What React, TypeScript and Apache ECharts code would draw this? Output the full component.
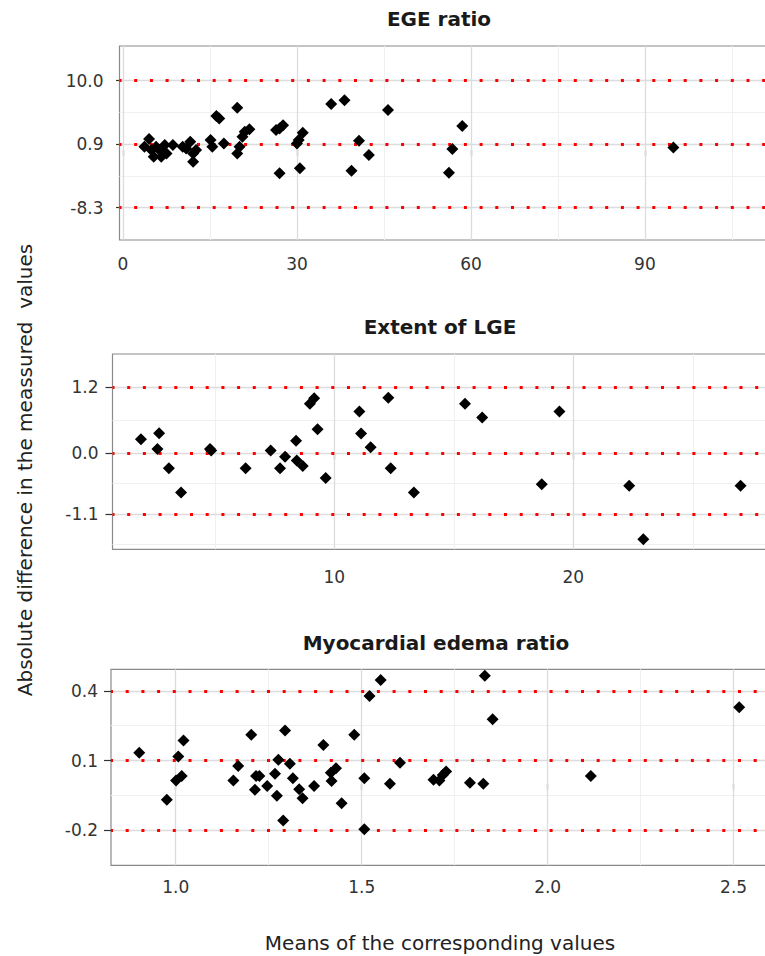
import React, { useEffect, useRef } from "react";
import * as echarts from "echarts";

// ---- Panel 1: EGE ratio ----
const egeTitle = "EGE ratio";
const egeX = [3.7, 4.5, 4.9, 5.3, 5.7, 6.3, 6.6, 7.2, 7.5, 8.6, 10.3, 10.9, 11.6, 12.1, 12.1, 12.6, 15.1, 15.4, 16.1, 16.6, 17.4, 19.7, 19.7, 20.1, 20.6, 21.0, 21.8, 26.4, 27.0, 27.6, 27.0, 30.0, 30.3, 31.0, 30.5, 35.9, 38.2, 39.4, 40.7, 42.4, 45.7, 56.2, 56.8, 58.5, 94.9];
const egeY = [0.49, 1.6, 0.01, -0.95, 0.49, 0.01, -0.95, 0.73, -0.47, 0.73, 0.49, 0.25, 1.2, -0.47, -1.67, 0.01, 1.45, 0.49, 4.9, 4.57, 0.97, 6.1, -0.47, 0.49, 1.93, 2.65, 3.0, 2.9, 3.13, 3.6, -3.35, 0.97, 1.45, 2.5, -2.63, 6.64, 7.2, -2.97, 1.35, -0.71, 5.77, -3.26, 0.15, 3.47, 0.39];
const egeLimits = [10.0, 0.9, -8.3];
const egeXTicks = [0, 30, 60, 90];
const egeXMinor = [15, 45, 75, 105];
const egeYMinor = [5.45, -3.7];

// ---- Panel 2: Extent of LGE ----
const lgeTitle = "Extent of LGE";
const lgeX = [1.91, 2.67, 2.6, 3.08, 3.59, 4.8, 4.85, 6.29, 7.34, 7.73, 7.94, 8.4, 8.43, 8.68, 8.98, 9.16, 9.3, 9.64, 11.05, 11.12, 11.52, 12.26, 12.36, 13.33, 15.47, 16.19, 18.68, 19.42, 22.34, 22.93, 27.0];
const lgeY = [0.255, 0.364, 0.079, -0.27, -0.71, 0.08, 0.05, -0.27, 0.05, -0.27, -0.06, 0.23, -0.13, -0.23, 0.9, 1.0, 0.44, -0.45, 0.76, 0.36, 0.11, 1.01, -0.27, -0.71, 0.9, 0.65, -0.56, 0.76, -0.59, -1.56, -0.59];
const lgeLimits = [1.2, 0.0, -1.1];
const lgeXTicks = [10, 20];
const lgeXMinor = [5, 15, 25];
const lgeYMinor = [0.6, -0.55, -1.65];

// ---- Panel 3: Myocardial edema ratio ----
const edTitle = "Myocardial edema ratio";
const edX = [0.902, 0.976, 1.001, 1.007, 1.016, 1.021, 1.155, 1.168, 1.203, 1.213, 1.216, 1.225, 1.246, 1.267, 1.272, 1.276, 1.289, 1.294, 1.307, 1.315, 1.332, 1.341, 1.372, 1.397, 1.417, 1.419, 1.431, 1.446, 1.48, 1.507, 1.507, 1.521, 1.551, 1.576, 1.603, 1.693, 1.709, 1.718, 1.727, 1.791, 1.827, 1.831, 1.852, 2.116, 2.515];
const edY = [0.134, -0.069, 0.014, 0.117, 0.034, 0.186, 0.014, 0.077, 0.211, -0.026, 0.034, 0.034, -0.009, 0.043, -0.051, 0.103, -0.158, 0.229, 0.086, 0.024, -0.023, -0.062, -0.009, 0.167, 0.048, 0.012, 0.067, -0.084, 0.211, 0.024, -0.196, 0.378, 0.447, 0.0, 0.091, 0.017, 0.014, 0.038, 0.053, 0.005, 0.0, 0.465, 0.278, 0.034, 0.33];
const edLimits = [0.4, 0.1, -0.2];
const edXTicks = [1.0, 1.5, 2.0, 2.5];
const edXMinor = [1.25, 1.75, 2.25];
const edYMinor = [0.25, -0.05];

const yAxisTitle = "Absolute difference in the meassured  values";
const xAxisTitle = "Means of the corresponding values";

const FONT = '"DejaVu Sans", sans-serif';

type Panel = {
  title: string;
  xs: number[];
  ys: number[];
  limits: number[];
  xTicks: number[];
  xMinor: number[];
  yMinor: number[];
  grid: { left: number; top: number; width: number; height: number };
  xRange: [number, number];
  yRange: [number, number];
  xFmt: (v: number) => string;
  xMargin: number;
  yMargin: number;
  dashOffset: number;
  titleX: number;
  titleY: number;
};

const panels: Panel[] = [
  {
    title: egeTitle, xs: egeX, ys: egeY, limits: egeLimits, xTicks: egeXTicks,
    xMinor: egeXMinor, yMinor: egeYMinor,
    grid: { left: 119.5, top: 46, width: 700, height: 194 },
    xRange: [-0.6, 120.1], yRange: [-12.95, 15.0],
    xFmt: (v) => String(v), xMargin: 15, yMargin: 16, dashOffset: 1.2,
    titleX: 439, titleY: 19,
  },
  {
    title: lgeTitle, xs: lgeX, ys: lgeY, limits: lgeLimits, xTicks: lgeXTicks,
    xMinor: lgeXMinor, yMinor: lgeYMinor,
    grid: { left: 112.5, top: 354, width: 700, height: 195.3 },
    xRange: [0.72, 30.01], yRange: [-1.745, 1.806],
    xFmt: (v) => String(v), xMargin: 19, yMargin: 14, dashOffset: 0.5,
    titleX: 440, titleY: 327,
  },
  {
    title: edTitle, xs: edX, ys: edY, limits: edLimits, xTicks: edXTicks,
    xMinor: edXMinor, yMinor: edYMinor,
    grid: { left: 111, top: 669.3, width: 700, height: 196 },
    xRange: [0.826, 2.708], yRange: [-0.351, 0.493],
    xFmt: (v) => v.toFixed(1), xMargin: 13, yMargin: 13, dashOffset: 0.5,
    titleX: 436, titleY: 643,
  },
];

function buildOption() {
  const grid: any[] = [];
  const xAxis: any[] = [];
  const yAxis: any[] = [];
  const series: any[] = [];
  const graphic: any[] = [];

  panels.forEach((p, i) => {
    grid.push({
      ...p.grid,
      show: true,
      borderColor: "#8a8a8a",
      borderWidth: 1.2,
      backgroundColor: "#ffffff",
      containLabel: false,
      outerBoundsMode: "none",
    });
    xAxis.push({
      gridIndex: i,
      type: "value",
      min: p.xRange[0],
      max: p.xRange[1],
      axisLine: { show: false },
      axisTick: { show: true, length: 6, customValues: p.xTicks, lineStyle: { color: "#333", width: 1.2 } },
      axisLabel: {
        customValues: p.xTicks,
        formatter: (v: number) => p.xFmt(v),
        margin: p.xMargin,
        color: "#333",
        fontSize: 17,
        fontFamily: FONT,
      },
      splitLine: { show: false },
    });
    yAxis.push({
      gridIndex: i,
      type: "value",
      min: p.yRange[0],
      max: p.yRange[1],
      axisLine: { show: false },
      axisTick: { show: true, length: 7, customValues: p.limits, lineStyle: { color: "#333", width: 1.2 } },
      axisLabel: {
        customValues: p.limits,
        formatter: (v: number) => v.toFixed(1),
        margin: p.yMargin,
        color: "#333",
        fontSize: 17,
        fontFamily: FONT,
      },
      splitLine: { show: false },
    });

    const minorStyle = { color: "#f0f0f0", width: 1, type: "solid" };
    const majorStyle = { color: "#dcdcdc", width: 1.3, type: "solid" };
    const lineData: any[] = [];
    p.xMinor.forEach((v) => lineData.push({ xAxis: v, lineStyle: minorStyle }));
    p.yMinor.forEach((v) => lineData.push({ yAxis: v, lineStyle: minorStyle }));
    p.xTicks.forEach((v) => lineData.push({ xAxis: v, lineStyle: majorStyle }));
    p.limits.forEach((v) => lineData.push({ yAxis: v, lineStyle: majorStyle }));
    p.limits.forEach((v) =>
      lineData.push({
        yAxis: v,
        lineStyle: { color: "#ff0000", width: 3, type: [3, 12.7], dashOffset: p.dashOffset, cap: "butt" },
      })
    );

    series.push({
      type: "scatter",
      xAxisIndex: i,
      yAxisIndex: i,
      data: [],
      z: 1,
      silent: true,
      markLine: {
        silent: true,
        z: 1,
        symbol: ["none", "none"],
        label: { show: false },
        emphasis: { disabled: true },
        animation: false,
        data: lineData,
      },
    });
    series.push({
      type: "scatter",
      xAxisIndex: i,
      yAxisIndex: i,
      z: 3,
      symbol: "diamond",
      symbolSize: 12,
      itemStyle: { color: "#000000", opacity: 1 },
      data: p.xs.map((x, k) => [x, p.ys[k]]),
    });

    graphic.push({
      type: "text",
      x: p.titleX,
      y: p.titleY,
      style: {
        text: p.title,
        font: `bold 20px ${FONT}`,
        fill: "#1a1a1a",
        align: "center",
        verticalAlign: "middle",
        textAlign: "center",
        textVerticalAlign: "middle",
      },
    });
  });

  graphic.push({
    type: "text",
    x: 25,
    y: 470,
    rotation: Math.PI / 2,
    style: {
      text: yAxisTitle,
      font: `20px ${FONT}`,
      fill: "#222",
      align: "center",
      verticalAlign: "middle",
      textAlign: "center",
      textVerticalAlign: "middle",
    },
  });
  graphic.push({
    type: "text",
    x: 440,
    y: 943,
    style: {
      text: xAxisTitle,
      font: `20px ${FONT}`,
      fill: "#222",
      align: "center",
      verticalAlign: "middle",
      textAlign: "center",
      textVerticalAlign: "middle",
    },
  });

  return {
    animation: false,
    backgroundColor: "#ffffff",
    grid,
    xAxis,
    yAxis,
    series,
    graphic,
  };
}

export default function App() {
  const ref = useRef<HTMLDivElement>(null);
  useEffect(() => {
    if (!ref.current) return;
    const chart = echarts.init(ref.current, undefined, { renderer: "svg" });
    chart.setOption(buildOption() as any);
    return () => chart.dispose();
  }, []);
  return (
    <div style={{ position: "absolute", left: 0, top: 0, width: 765, height: 956, overflow: "hidden", background: "#fff" }}>
      <div ref={ref} style={{ width: 765, height: 956 }} />
    </div>
  );
}
